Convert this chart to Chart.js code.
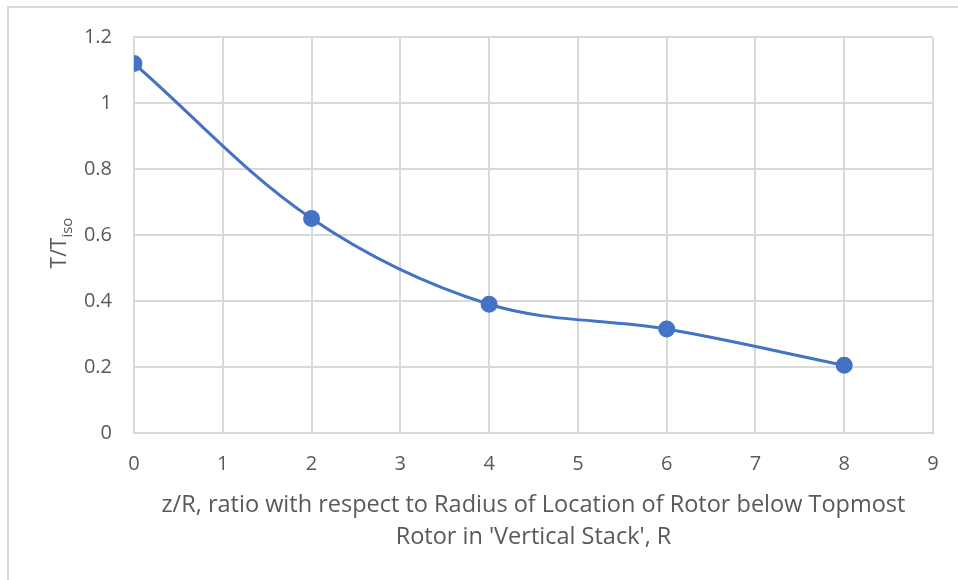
<!DOCTYPE html>
<html>
<head>
<meta charset="utf-8">
<script src="https://cdn.jsdelivr.net/npm/chart.js@4.4.1/dist/chart.umd.min.js"></script>
<style>
  html, body { margin: 0; padding: 0; background: #fff; overflow: hidden; }
  #wrap { position: relative; width: 958px; height: 580px; }
  #frame { position: absolute; left: 7px; top: 6px; width: 1000px; height: 1000px;
           border: 2px solid #d9d9d9; box-sizing: border-box; }
  #chart { position: absolute; left: 0; top: 0; }
</style>
</head>
<body>
<div id="wrap">
  <div id="frame"></div>
  <canvas id="chart" width="958" height="580"></canvas>
</div>
<script>
// data
const zR = [0, 2, 4, 6, 8];
const tRatio = [1.12, 0.65, 0.39, 0.315, 0.205];
const xTitle = ["z/R, ratio with respect to Radius of Location of Rotor below Topmost",
                "Rotor in 'Vertical Stack', R"];
const yTitleMain = "T/T";
const yTitleSub = "iso";

const fontFamily = "'Open Sans', 'Liberation Sans', sans-serif";
const textColor = "#595959";
const gridColor = "#d9d9d9";
const lineColor = "#4472c4";

// y axis title with subscript, Chart.js titles can't do that
const yTitlePlugin = {
  id: "yTitle",
  afterDraw(chart) {
    const ctx = chart.ctx;
    const area = chart.chartArea;
    const cy = (area.top + area.bottom) / 2 + 8;
    ctx.save();
    ctx.translate(60, cy);
    ctx.rotate(-Math.PI / 2);
    ctx.fillStyle = textColor;
    ctx.textBaseline = "middle";
    ctx.font = "21px " + fontFamily;
    const w1 = ctx.measureText(yTitleMain).width;
    ctx.font = "15px " + fontFamily;
    const w2 = ctx.measureText(yTitleSub).width;
    const start = -(w1 + w2) / 2;
    ctx.font = "21px " + fontFamily;
    ctx.textAlign = "left";
    ctx.fillText(yTitleMain, start, 0);
    ctx.font = "15px " + fontFamily;
    ctx.fillText(yTitleSub, start + w1, 8);
    ctx.restore();
  }
};

new Chart(document.getElementById("chart"), {
  type: "line",
  data: {
    datasets: [{
      data: zR.map((x, i) => ({ x: x, y: tRatio[i] })),
      borderColor: lineColor,
      backgroundColor: lineColor,
      borderWidth: 3,
      pointRadius: 7,
      pointHoverRadius: 7,
      tension: 0.35,
      fill: false
    }]
  },
  options: {
    responsive: false,
    animation: false,
    events: [],
    layout: { padding: { left: 0, right: 25, top: 37, bottom: 27 } },
    plugins: {
      legend: { display: false },
      tooltip: { enabled: false }
    },
    scales: {
      x: {
        type: "linear",
        min: 0,
        max: 9,
        afterFit: (scale) => { scale.height = 120; },
        ticks: {
          stepSize: 1,
          padding: 19,
          color: textColor,
          font: { family: fontFamily, size: 20 }
        },
        grid: { color: gridColor, lineWidth: 2, drawTicks: false },
        border: { color: gridColor, width: 2 },
        title: {
          display: true,
          text: xTitle,
          color: textColor,
          font: { family: fontFamily, size: 23.5, lineHeight: 1.36 },
          padding: { top: 0, bottom: 0 }
        }
      },
      y: {
        min: 0,
        max: 1.2,
        afterFit: (scale) => { scale.width = 134; },
        ticks: {
          stepSize: 0.2,
          padding: 22,
          color: textColor,
          font: { family: fontFamily, size: 20 },
          callback: (v) => Math.round(v * 10) / 10
        },
        grid: { color: gridColor, lineWidth: 2, drawTicks: false },
        border: { color: gridColor, width: 2 }
      }
    }
  },
  plugins: [yTitlePlugin]
});
</script>
</body>
</html>
